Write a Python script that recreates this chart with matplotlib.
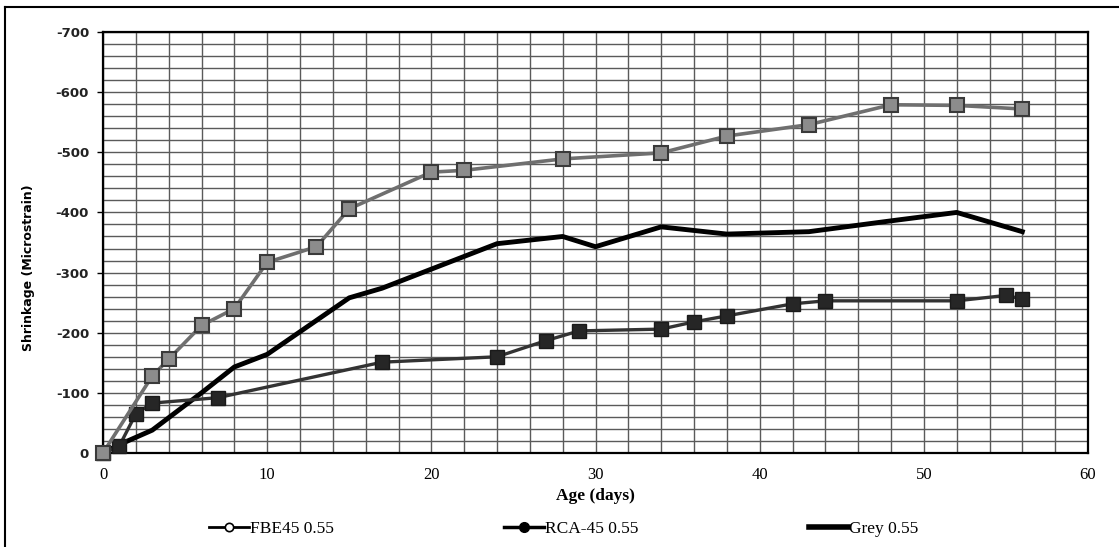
import matplotlib
matplotlib.use("Agg")
import matplotlib.pyplot as plt
from matplotlib.lines import Line2D
from matplotlib.ticker import MultipleLocator

plt.rcParams["axes.unicode_minus"] = False

# ---- data ----
fbe_days = [0, 3, 4, 6, 8, 10, 13, 15, 20, 22, 28, 34, 38, 43, 48, 52, 56]
fbe_vals = [0, -128, -156, -212, -240, -317, -343, -406, -467, -470, -489, -499, -527, -546, -579, -578, -572]

rca_days = [0, 1, 2, 3, 7, 17, 24, 27, 29, 34, 36, 38, 42, 44, 52, 55, 56]
rca_vals = [0, -12, -65, -83, -92, -151, -160, -187, -203, -206, -218, -228, -248, -253, -253, -262, -256]

grey_days = [0, 1, 3, 6, 8, 10, 15, 17, 24, 28, 30, 34, 38, 43, 48, 52, 56]
grey_vals = [0, -14, -38, -100, -143, -164, -258, -274, -348, -360, -343, -376, -364, -368, -386, -400, -368]

series_labels = ["FBE45 0.55", "RCA-45 0.55", "Grey 0.55"]
x_label = "Age (days)"
y_label = "Shrinkage (Microstrain)"

fig = plt.figure(figsize=(11.19, 5.47), dpi=100)
ax = fig.add_axes([103/1119, 1-453/547, (1088-103)/1119, (453-32)/547])

grid_c = "#5a5a5a"
ax.set_xlim(0, 60)
ax.set_ylim(0, -700)
ax.xaxis.set_major_locator(MultipleLocator(10))
ax.xaxis.set_minor_locator(MultipleLocator(2))
ax.yaxis.set_major_locator(MultipleLocator(100))
ax.yaxis.set_minor_locator(MultipleLocator(20))
ax.grid(which="both", color=grid_c, linewidth=1.0)
ax.set_axisbelow(True)

ax.plot(grey_days, grey_vals, color="black", lw=3.5, solid_joinstyle="round", zorder=3)
ax.plot(rca_days, rca_vals, color="#333333", lw=2.4, marker="s", ms=9.5,
        mfc="#262626", mec="#1a1a1a", zorder=4, clip_on=False)
ax.plot(fbe_days, fbe_vals, color="#6f6f6f", lw=2.6, marker="s", ms=9.5,
        mfc="#8c8c8c", mec="#3a3a3a", mew=1.5, zorder=5, clip_on=False)

for s in ax.spines.values():
    s.set_linewidth(1.6)
    s.set_color("black")

ax.tick_params(which="minor", length=0)
ax.tick_params(axis="y", which="major", length=4, width=1, pad=6)
ax.tick_params(axis="x", which="major", length=0, pad=10)
for t in ax.get_yticklabels():
    t.set_fontfamily("DejaVu Sans")
    t.set_fontweight("bold")
    t.set_fontsize(9.5)
    t.set_color("#222222")
for t in ax.get_xticklabels():
    t.set_fontfamily("Liberation Serif")
    t.set_fontsize(12)

ax.set_xlabel(x_label, fontfamily="Liberation Serif", fontweight="bold", fontsize=12.5, labelpad=4)
ax.set_ylabel(y_label, fontfamily="DejaVu Sans", fontweight="bold", fontsize=9)
ax.yaxis.set_label_coords((35 - 103) / 985, (453 - 268) / 421)

handles = [
    Line2D([], [], color="black", lw=2, marker="o", ms=6, mfc="white", mec="black", mew=1.2),
    Line2D([], [], color="black", lw=2.5, marker="o", ms=7, mfc="black", mec="black"),
    Line2D([], [], color="black", lw=4),
]
fig.legend(handles, series_labels, loc="center", bbox_to_anchor=(564/1119, 1-529/547),
           ncol=3, frameon=False, handlelength=2.3, handletextpad=0.05,
           columnspacing=9.8, prop={"family": "Liberation Serif", "size": 12.5})

# figure border (top and left)
fig.add_artist(Line2D([5/1119, 1], [1-7/547, 1-7/547], color="black", lw=1.5, transform=fig.transFigure))
fig.add_artist(Line2D([5/1119, 5/1119], [0, 1-7/547], color="black", lw=1.5, transform=fig.transFigure))

fig.savefig("out.png", dpi=100)
